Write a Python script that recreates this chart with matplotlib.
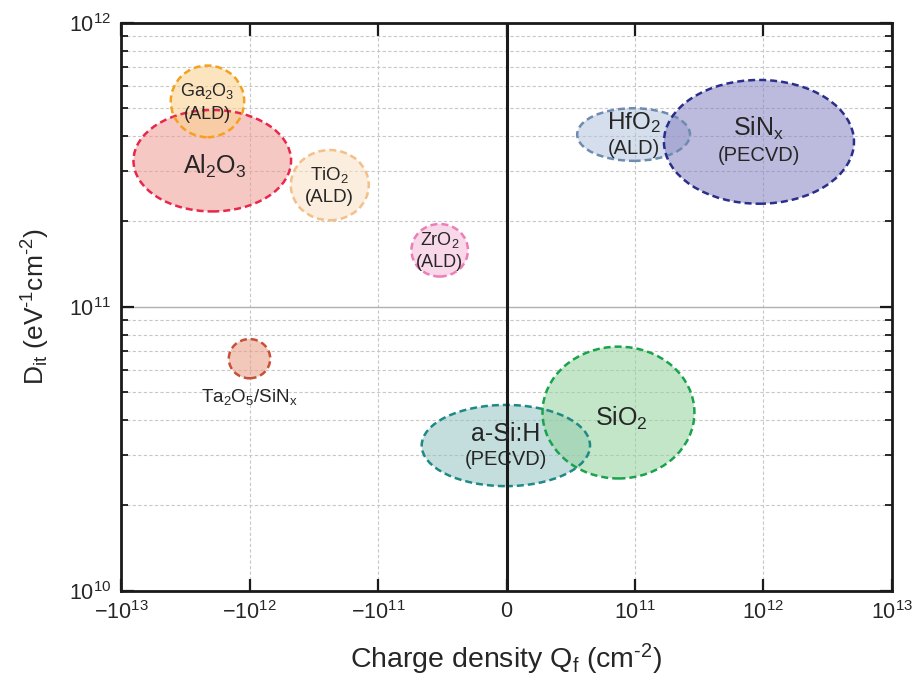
import numpy as np
import matplotlib
matplotlib.use('Agg')
import matplotlib.pyplot as plt
from matplotlib.patches import Ellipse
from matplotlib.ticker import FixedLocator, FixedFormatter, NullLocator, LogLocator

plt.rcParams['font.family'] = ['Liberation Sans', 'DejaVu Sans']
plt.rcParams['mathtext.fontset'] = 'custom'
plt.rcParams['mathtext.rm'] = 'Liberation Sans'
plt.rcParams['mathtext.it'] = 'Liberation Sans:italic'
plt.rcParams['mathtext.bf'] = 'Liberation Sans:bold'

# dielectric layers: ranges of fixed charge Qf (cm^-2) and Dit (eV^-1 cm^-2)
names    = ['Al$_2$O$_3$', 'Ga$_2$O$_3$', 'TiO$_2$', 'ZrO$_2$', 'Ta$_2$O$_5$/SiN$_\\mathrm{x}$',
            'HfO$_2$', 'SiN$_\\mathrm{x}$', 'a-Si:H', 'SiO$_2$']
subnames = ['', '(ALD)', '(ALD)', '(ALD)', '', '(ALD)', '(PECVD)', '(PECVD)', '']
qf_min   = [-8.0e12, -4.1e12, -4.77e11, -7.4e10, -1.45e12, 5.5e10, 1.68e11, -6.6e10, 2.8e10]
qf_max   = [-4.75e11, -1.1e12, -1.18e11, -3.0e10, -6.9e11, 2.68e11, 5.06e12, 6.5e10, 2.9e11]
dit_min  = [2.17e11, 3.96e11, 2.02e11, 1.28e11, 5.61e10, 3.27e11, 2.31e11, 2.34e10, 2.49e10]
dit_max  = [4.94e11, 7.08e11, 3.57e11, 1.96e11, 7.71e10, 5.01e11, 6.30e11, 4.52e10, 7.25e10]

edge_colors = ['#e8274b', '#f5a01e', '#f4bf88', '#ec7fb8', '#c65038',
               '#6d8cb0', '#2a2e8c', '#1e8a86', '#18a34c']
fill_colors = ['#f09c94', '#fad08a', '#fbe0c4', '#f4b8d8', '#e99b84',
               '#b4c3dd', '#8682c2', '#94c2c1', '#93d39c']
main_size = [18, 13, 13.5, 13, 13.5, 17.5, 18, 18, 18]
sub_size  = [14, 13, 13.5, 13, 13.5, 14.5, 14.5, 14.5, 14]

xticks = [-1e13, -1e12, -1e11, 0, 1e11, 1e12, 1e13]
xticklabels = ['$-10^{13}$', '$-10^{12}$', '$-10^{11}$', '$0$',
               '$10^{11}$', '$10^{12}$', '$10^{13}$']

fig = plt.figure(figsize=(9.21, 6.8), dpi=100)
ax = fig.add_axes([0.1314, 0.1309, 0.8371, 0.8353])

ax.set_xscale('symlog', linthresh=1e11, linscale=0.9)
ax.set_yscale('log')
ax.set_xlim(-1e13, 1e13)
ax.set_ylim(1e10, 1e12)

# grids
ax.xaxis.set_major_locator(FixedLocator(xticks))
ax.xaxis.set_major_formatter(FixedFormatter(xticklabels))
ax.xaxis.set_minor_locator(NullLocator())
ax.yaxis.set_major_locator(LogLocator(base=10))
ax.yaxis.set_minor_locator(LogLocator(base=10, subs=np.arange(2, 10)))
ax.grid(True, which='minor', axis='y', color='#c8c8c8', linestyle=(0, (3, 2)), linewidth=0.8)
ax.grid(True, which='major', axis='y', color='#b0b0b0', linestyle='-', linewidth=1.0)
ax.grid(True, which='major', axis='x', color='#c8c8c8', linestyle=(0, (3, 2)), linewidth=0.8)
ax.xaxis.get_gridlines()[3].set_visible(False)
ax.axvline(0, color='#1a1a1a', linewidth=2.2, zorder=3)

# ellipses spanning the measured ranges
to_axes = ax.transScale + ax.transLimits
for i in range(len(names)):
    (x0, y0) = to_axes.transform((qf_min[i], dit_min[i]))
    (x1, y1) = to_axes.transform((qf_max[i], dit_max[i]))
    cx, cy = (x0 + x1) / 2, (y0 + y1) / 2
    e = Ellipse((cx, cy), abs(x1 - x0), abs(y1 - y0), transform=ax.transAxes,
                facecolor=fill_colors[i], alpha=0.55, edgecolor='none', zorder=2)
    ax.add_patch(e)
    e2 = Ellipse((cx, cy), abs(x1 - x0), abs(y1 - y0), transform=ax.transAxes,
                 facecolor='none', edgecolor=edge_colors[i], linewidth=1.8,
                 linestyle=(0, (2.8, 1.6)), zorder=2.5)
    ax.add_patch(e2)

    if names[i].startswith('Ta'):
        ax.annotate(names[i], (cx, y0), xycoords='axes fraction', xytext=(0, -6),
                    textcoords='offset points', ha='center', va='top',
                    fontsize=main_size[i], color='#262626', zorder=4)
    elif subnames[i]:
        ax.annotate(names[i], (cx, cy), xycoords='axes fraction', xytext=(0, 0),
                    textcoords='offset points', ha='center', va='bottom',
                    fontsize=main_size[i], color='#262626', zorder=4)
        ax.annotate(subnames[i], (cx, cy), xycoords='axes fraction', xytext=(0, -3),
                    textcoords='offset points', ha='center', va='top',
                    fontsize=sub_size[i], color='#262626', zorder=4)
    else:
        ax.annotate(names[i], (cx, cy), xycoords='axes fraction', xytext=(2, -4),
                    textcoords='offset points', ha='center', va='center',
                    fontsize=main_size[i], color='#262626', zorder=4)

for s in ax.spines.values():
    s.set_linewidth(2)
    s.set_color('#1a1a1a')
    s.set_zorder(5)

ax.tick_params(which='both', direction='in', top=True, right=True, colors='#1a1a1a')
ax.tick_params(which='major', length=9, width=1.6, labelsize=15.5, pad=7, labelcolor='#262626')
ax.tick_params(which='minor', length=5, width=1.3)

ax.set_xlabel('Charge density Q$_\\mathrm{f}$ (cm$^{\u20102}$)', fontsize=20.5, color='#262626', labelpad=13)
ax.set_ylabel('D$_\\mathrm{it}$ (eV$^{\u20101}$cm$^{\u20102}$)', fontsize=19, color='#262626', labelpad=12)

fig.savefig('out.png', dpi=100)
